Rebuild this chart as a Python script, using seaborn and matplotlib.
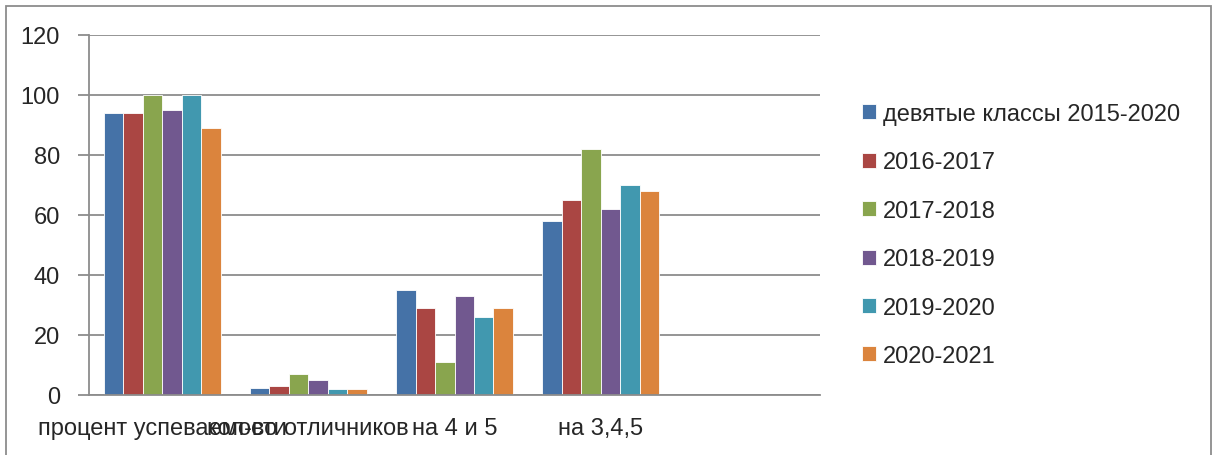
import pandas as pd
import numpy as np
import matplotlib.pyplot as plt
import seaborn as sns
from matplotlib.patches import Rectangle

sns.set_style("white")
plt.rcParams["font.family"] = ["Liberation Sans", "DejaVu Sans"]

# data
categories = ["процент успеваемости", "кол-во отличников", "на 4 и 5", "на 3,4,5", " "]
years = ["девятые классы 2015-2020", "2016-2017", "2017-2018",
         "2018-2019", "2019-2020", "2020-2021"]
uspevaemost = [94, 94, 100, 95, 100, 89]
otlichniki = [2.5, 3, 7, 5, 2, 2]
na_4_5 = [35, 29, 11, 33, 26, 29]
na_3_4_5 = [58, 65, 82, 62, 70, 68]
colors = ["#4572A7", "#AA4643", "#89A54E", "#71588F", "#4198AF", "#DB843D"]

rows = []
for cat, vals in zip(categories[:4], [uspevaemost, otlichniki, na_4_5, na_3_4_5]):
    for yr, v in zip(years, vals):
        rows.append({"category": cat, "year": yr, "value": v})
df = pd.DataFrame(rows)

fig = plt.figure(figsize=(12.14, 4.56), dpi=100)
ax = fig.add_axes([89 / 1214, 1 - 396 / 456, (820 - 89) / 1214, (396 - 36) / 456])

sns.barplot(data=df, x="category", y="value", hue="year", order=categories,
            hue_order=years, palette=colors, saturation=1, width=0.8,
            edgecolor="white", linewidth=0.6, ax=ax, legend=True)

ax.set_ylim(0, 120)
ax.set_yticks(np.arange(0, 121, 20))
ax.set_xlim(-0.5, 4.5)
ax.yaxis.grid(True, color="#8c8c8c", linewidth=1.3)
ax.set_axisbelow(True)
ax.set_xlabel("")
ax.set_ylabel("")

# ticks at slot boundaries, labels at slot centres
ax.set_xticks(np.arange(-0.5, 4.6, 1.0))
ax.set_xticklabels([])
ax.set_xticks(np.arange(0, 5), minor=True)
ax.set_xticklabels(categories, minor=True)
ax.tick_params(axis="x", which="major", length=10, width=1.3, color="#8c8c8c", direction="out")
ax.tick_params(axis="x", which="minor", length=0, pad=16, labelsize=17)
ax.tick_params(axis="y", length=8, width=1.3, color="#8c8c8c", pad=13, labelsize=17, left=True)

for s in ["top", "right"]:
    ax.spines[s].set_visible(False)
for s in ["left", "bottom"]:
    ax.spines[s].set_color("#8c8c8c")
    ax.spines[s].set_linewidth(1.3)

handles, labels = ax.get_legend_handles_labels()
ax.get_legend().remove()
fig.legend(handles, labels, loc="upper left", bbox_to_anchor=(862 / 1214, 1 - 104 / 456),
           frameon=False, fontsize=17, handlelength=0.6, handleheight=0.6,
           handletextpad=0.3, labelspacing=1.12, borderpad=0, borderaxespad=0)

# outer chart frame
fig.patches.append(Rectangle((6 / 1214, -0.05), (1211 - 6) / 1214, 1.05 - 7 / 456,
                             transform=fig.transFigure, fill=False,
                             edgecolor="#8c8c8c", linewidth=1.3, clip_on=False))

fig.savefig("out.png", dpi=100)
